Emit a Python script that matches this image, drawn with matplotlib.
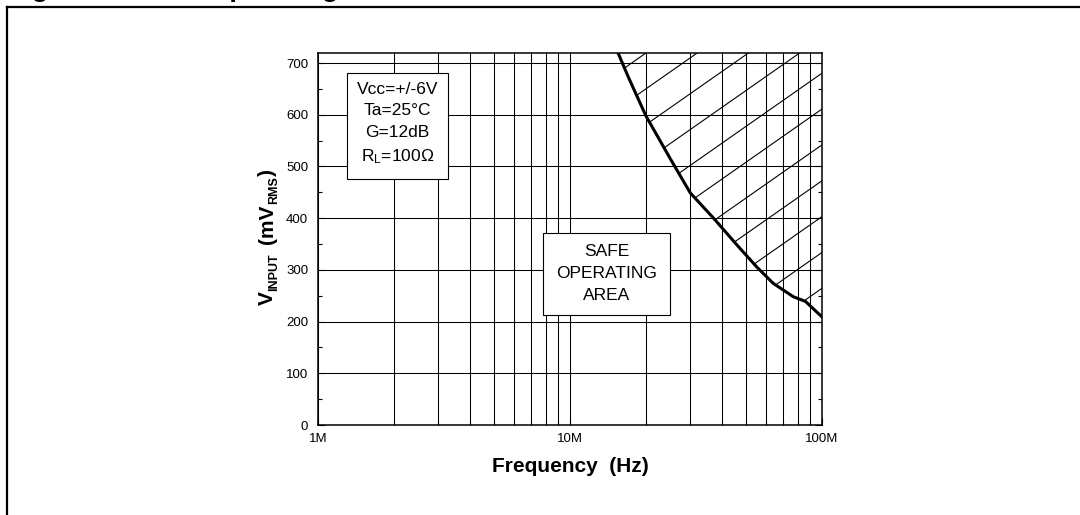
import numpy as np
import matplotlib.pyplot as plt
from matplotlib.lines import Line2D
from matplotlib.patches import Polygon, Rectangle
from matplotlib.ticker import LogLocator, MultipleLocator, NullFormatter

plt.rcParams['font.family'] = ['Liberation Sans', 'DejaVu Sans']
plt.rcParams['mathtext.fontset'] = 'custom'
plt.rcParams['mathtext.rm'] = 'Liberation Sans'
plt.rcParams['mathtext.it'] = 'Liberation Sans:italic'
plt.rcParams['mathtext.bf'] = 'Liberation Sans:bold'

# safe operating limit
freq_mhz = [15.5, 17, 20, 25, 30, 37.6, 46, 55, 64, 77, 86, 100]
v_input_mv = [720, 674, 598, 515, 449, 397, 348, 306, 274, 248, 239, 209]

x_ticks_hz = [1e6, 1e7, 1e8]
x_tick_labels = ["1M", "10M", "100M"]
y_ticks = list(range(0, 701, 100))

conditions = ["Vcc=+/-6V", "Ta=25°C", "G=12dB", r"R$_\mathregular{L}$=100Ω"]
region_label = "SAFE\nOPERATING\nAREA"
title = "Figure 14. Safe operating area"
# y label pieces: (text, size, subscript?)
ylabel_parts = [("V", 15, False), ("INPUT", 9, True), (None, 10, False),
                ("(mV", 15, False), ("RMS", 9, True), (")", 15, False)]

W, H = 1080, 515
fig = plt.figure(figsize=(W / 100, H / 100), dpi=100)
ax_box = [318 / W, 1 - 425 / H, 504 / W, 372.3 / H]
ax = fig.add_axes(ax_box)

freq_hz = np.array(freq_mhz) * 1e6
ax.set_xscale('log')
ax.set_xlim(1e6, 1e8)
ax.set_ylim(0, 720)

# --- grid ---
ax.set_xticks(x_ticks_hz, labels=x_tick_labels)
ax.xaxis.set_minor_locator(LogLocator(base=10, subs=np.arange(2, 10)))
ax.xaxis.set_minor_formatter(NullFormatter())
ax.set_yticks(y_ticks)
ax.yaxis.set_minor_locator(MultipleLocator(50))
ax.grid(True, which='both', axis='x', color='black', lw=0.75)
ax.grid(True, which='major', axis='y', color='black', lw=0.75)
ax.set_axisbelow(True)

ax.tick_params(which='both', direction='in', left=True, right=True, top=False, bottom=True,
               labelsize=9.5, width=0.8)
ax.tick_params(which='major', length=5)
ax.tick_params(which='minor', length=3)
ax.tick_params(axis='y', pad=7)
ax.tick_params(axis='x', pad=6)
for s in ax.spines.values():
    s.set_linewidth(1.1)

# --- hatched region above the curve ---
verts = list(zip(freq_hz, v_input_mv)) + [(1e8, 720), (freq_hz[0], 720)]
region = Polygon(verts, closed=True, facecolor='none', edgecolor='none')
ax.add_patch(region)

ax_w = ax_box[2] * W
ax_h = ax_box[3] * H
slope = 0.70 * ax_w / ax_h
step = 0.0963
for k in range(-4, 14):
    y1 = 0.3672 + k * step
    ln, = ax.plot([0, 1], [y1 - slope, y1], transform=ax.transAxes,
                  color='black', lw=0.8, zorder=2)
    ln.set_clip_path(region)

ax.plot(freq_hz, v_input_mv, color='black', lw=2.2, zorder=3)

# --- boxes ---
ax.add_patch(Rectangle((0.0569, 0.66), 0.2016, 0.2863, transform=ax.transAxes,
                       facecolor='white', edgecolor='black', lw=0.8, zorder=4))
ax.text(0.1577, 0.808, "\n".join(conditions), transform=ax.transAxes,
        ha='center', va='center', fontsize=12.5, linespacing=1.55, zorder=5,
        multialignment='center')

ax.add_patch(Rectangle((0.4464, 0.2955), 0.252, 0.2194, transform=ax.transAxes,
                       facecolor='white', edgecolor='black', lw=0.8, zorder=4))
ax.text(0.5724, 0.407, region_label, transform=ax.transAxes,
        ha='center', va='center', fontsize=12.5, linespacing=1.55, zorder=5,
        multialignment='center')

# --- axis labels ---
renderer = fig.canvas.get_renderer()
y_px = H - 305
for txt, size, sub in ylabel_parts:
    if txt is None:
        y_px += size
        continue
    x_px = 277.5 if sub else 273
    t = fig.text(x_px / W, y_px / H, txt, rotation=90, rotation_mode='anchor',
                 ha='left', va='baseline', fontsize=size, fontweight='bold')
    y_px += t.get_window_extent(renderer).height

fig.text(570 / W, 1 - 467 / H, "Frequency  (Hz)", ha='center', va='center',
         fontsize=15, fontweight='bold')

# --- page frame and clipped caption ---
fig.add_artist(Line2D([7 / W, 1], [1 - 7 / H, 1 - 7 / H], color='black', lw=1.6))
fig.add_artist(Line2D([7 / W, 7 / W], [0, 1 - 7 / H], color='black', lw=1.6))
fig.text(7 / W, 1 + 3.5 / H, title, ha='left', va='baseline', fontsize=20,
         fontweight='bold')

fig.savefig("out.png", dpi=100)
